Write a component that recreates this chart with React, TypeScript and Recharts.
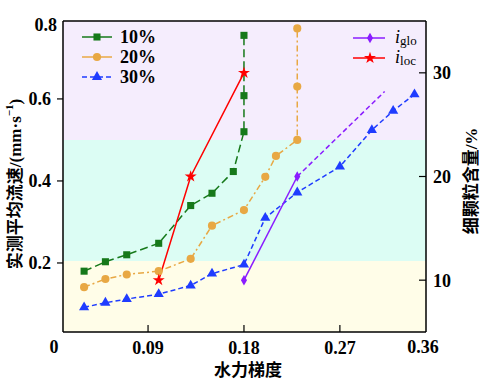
import React from 'react'
import { ComposedChart, Line, XAxis, YAxis, ReferenceArea, ReferenceLine, Symbols } from 'recharts'

// 水力梯度 vs 实测平均流速, one series per fine content
const grad10 = [0.03, 0.05, 0.07, 0.1, 0.13, 0.15, 0.17, 0.18, 0.18, 0.18]
const vel10 = [0.18, 0.203, 0.22, 0.248, 0.34, 0.37, 0.423, 0.52, 0.608, 0.755]

const grad20 = [0.03, 0.05, 0.07, 0.1, 0.13, 0.15, 0.18, 0.2, 0.21, 0.23, 0.23, 0.23]
const vel20 = [0.141, 0.161, 0.172, 0.18, 0.21, 0.291, 0.329, 0.41, 0.461, 0.5, 0.63, 0.772]

const grad30 = [0.03, 0.05, 0.07, 0.1, 0.13, 0.15, 0.18, 0.2, 0.23, 0.27, 0.3, 0.32, 0.34]
const vel30 = [0.092, 0.103, 0.112, 0.124, 0.145, 0.174, 0.196, 0.31, 0.372, 0.435, 0.524, 0.571, 0.611]

// critical gradients vs 细颗粒含量 (right axis)
const locGrad = [0.1, 0.13, 0.18]
const locFines = [10, 20, 30]
const gloGrad = [0.18, 0.23]
const gloFines = [10, 20]
const gloTrendGrad = [0.23, 0.312]
const gloTrendFines = [20, 28.2]

const xTicks = [0.09, 0.18, 0.27]
const leftTicks = [0.2, 0.4, 0.6]
const rightTicks = [10, 20, 30]

const GREEN = '#16791a'
const ORANGE = '#e8a844'
const BLUE = '#1f3cff'
const PURPLE = '#8a1cff'
const RED = '#ff0000'

const SERIF = "'Liberation Serif', 'Noto Sans CJK SC', serif"

const pts = (xs: number[], ys: number[]) => xs.map((x, i) => ({ x, y: ys[i] }))

const marker = (type: any, size: number, color: string) => (props: any) => {
  const { cx, cy, index } = props
  if (cx == null || cy == null) return <g key={index} />
  return <Symbols key={index} cx={cx} cy={cy} type={type} size={size} fill={color} stroke="none" />
}

const tickStyle = { fill: '#000', fontSize: 18, fontWeight: 700, fontFamily: SERIF }

function LegendRow({ y, color, dash, type, size, children }: any) {
  return (
    <g>
      <line x1={82} x2={112} y1={y} y2={y} stroke={color} strokeWidth={1.5} strokeDasharray={dash} />
      <Symbols cx={97} cy={y} type={type} size={size} fill={color} />
      <text x={120} y={y + 6} fontSize={18} fontWeight={700} fontFamily={SERIF} fill="#000">
        {children}
      </text>
    </g>
  )
}

function GradRow({ y, color, type, size, sub }: any) {
  return (
    <g>
      <line x1={353} x2={385} y1={y} y2={y} stroke={color} strokeWidth={1.5} />
      <Symbols cx={370} cy={y} type={type} size={size} fill={color} />
      <text x={395} y={y + 5} fontSize={18} fontFamily={SERIF} fill="#000" fontStyle="italic">
        i
        <tspan fontStyle="normal" fontSize={13} dy={2}>
          {sub}
        </tspan>
      </text>
    </g>
  )
}

export default function App() {
  return (
    <div style={{ position: 'absolute', left: 0, top: 0, width: 486, height: 390, background: '#fff' }}>
      <ComposedChart width={486} height={390} margin={{ top: 21, right: 10, bottom: 28, left: 13 }}>
        <XAxis
          type="number"
          dataKey="x"
          domain={[0.0102, 0.3508]}
          allowDataOverflow
          ticks={xTicks}
          interval={0}
          height={30}
          tickSize={-7}
          tickMargin={16}
          tick={tickStyle}
          axisLine={{ stroke: '#000', strokeWidth: 1.5 }}
          tickLine={{ stroke: '#000', strokeWidth: 1.2 }}
        />
        <YAxis
          yAxisId="left"
          type="number"
          domain={[0.0317, 0.79]}
          allowDataOverflow
          ticks={leftTicks}
          interval={0}
          width={50}
          tickSize={6}
          tickMargin={6}
          tick={tickStyle}
          axisLine={{ stroke: '#000', strokeWidth: 1.5 }}
          tickLine={{ stroke: '#000', strokeWidth: 1.2 }}
        />
        <YAxis
          yAxisId="right"
          orientation="right"
          type="number"
          domain={[5, 35]}
          allowDataOverflow
          ticks={rightTicks}
          interval={0}
          width={50}
          tickSize={-7}
          tickMargin={14}
          tick={tickStyle}
          axisLine={{ stroke: '#000', strokeWidth: 1.5 }}
          tickLine={{ stroke: '#000', strokeWidth: 1.2 }}
        />

        <ReferenceArea yAxisId="left" y1={0.5} y2={0.79} fill="#f5edfd" fillOpacity={1} stroke="none" />
        <ReferenceArea yAxisId="left" y1={0.205} y2={0.5} fill="#dcfdf4" fillOpacity={1} stroke="none" />
        <ReferenceArea yAxisId="left" y1={0.0317} y2={0.205} fill="#fffde8" fillOpacity={1} stroke="none" />
        <ReferenceLine yAxisId="left" y={0.79} stroke="#000" strokeWidth={1.5} />

        <Line
          yAxisId="left"
          data={pts(grad10, vel10)}
          dataKey="y"
          stroke={GREEN}
          strokeWidth={1.5}
          strokeDasharray="8 4"
          dot={marker('square', 50, GREEN)}
          isAnimationActive={false}
        />
        <Line
          yAxisId="left"
          data={pts(grad20, vel20)}
          dataKey="y"
          stroke={ORANGE}
          strokeWidth={1.5}
          strokeDasharray="6 3 2 3"
          dot={marker('circle', 52, ORANGE)}
          isAnimationActive={false}
        />
        <Line
          yAxisId="left"
          data={pts(grad30, vel30)}
          dataKey="y"
          stroke={BLUE}
          strokeWidth={1.5}
          strokeDasharray="5 3"
          dot={marker('triangle', 45, BLUE)}
          isAnimationActive={false}
        />
        <Line
          yAxisId="right"
          data={pts(gloTrendGrad, gloTrendFines)}
          dataKey="y"
          stroke={PURPLE}
          strokeWidth={1.5}
          strokeDasharray="5 3"
          dot={false}
          isAnimationActive={false}
        />
        <Line
          yAxisId="right"
          data={pts(gloGrad, gloFines)}
          dataKey="y"
          stroke={PURPLE}
          strokeWidth={1.5}
          dot={marker('diamond', 32, PURPLE)}
          isAnimationActive={false}
        />
        <Line
          yAxisId="right"
          data={pts(locGrad, locFines)}
          dataKey="y"
          stroke={RED}
          strokeWidth={1.5}
          dot={marker('star', 45, RED)}
          isAnimationActive={false}
        />
      </ComposedChart>

      <svg width={486} height={390} style={{ position: 'absolute', left: 0, top: 0, pointerEvents: 'none' }}>
        <LegendRow y={37} color={GREEN} type="square" size={50}>10%</LegendRow>
        <LegendRow y={57} color={ORANGE} type="circle" size={52}>20%</LegendRow>
        <LegendRow y={77} color={BLUE} dash="5 3" type="triangle" size={45}>30%</LegendRow>

        <GradRow y={38} color={PURPLE} type="diamond" size={32} sub="glo" />
        <GradRow y={58} color={RED} type="star" size={45} sub="loc" />

        <g fontFamily={SERIF} fontWeight={700} fontSize={18} fill="#000">
          <text x={57} y={31} textAnchor="end">0.8</text>
          <text x={54} y={353} textAnchor="middle">0</text>
          <text x={423} y={353} textAnchor="middle">0.36</text>
          <text x={248} y={376} textAnchor="middle" fontSize={17}>水力梯度</text>
          <text transform="translate(15,184) rotate(-90)" textAnchor="middle" dominantBaseline="central" fontSize={17}>
            实测平均流速/(mm·s
            <tspan fontSize={11} dy={-6}>−1</tspan>
            <tspan dy={6}>)</tspan>
          </text>
          <text transform="translate(471,181) rotate(-90)" textAnchor="middle" dominantBaseline="central" fontSize={17}>
            细颗粒含量/%
          </text>
        </g>
      </svg>
    </div>
  )
}
